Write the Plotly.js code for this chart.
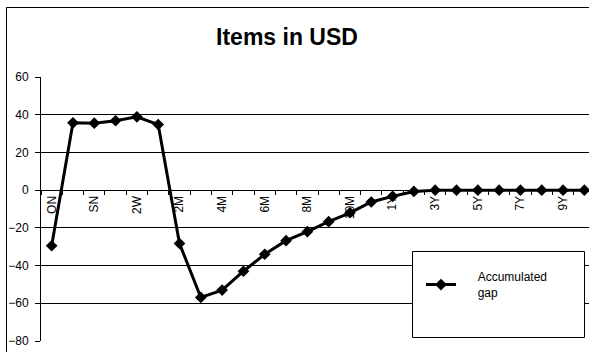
<!DOCTYPE html>
<html>
<head>
<meta charset="utf-8">
<script src="https://cdn.plot.ly/plotly-3.0.1.min.js"></script>
<style>
  html, body { margin: 0; padding: 0; background: #fff; overflow: hidden; }
  #chart { width: 610px; height: 370px; }
</style>
</head>
<body>
<div id="chart"></div>
<script>
// Tenor buckets along the horizontal axis
const tenors = ['ON', 'TN', 'SN', '1W', '2W', '1M', '2M', '3M', '4M', '5M', '6M', '7M', '8M',
                '9M', '10M', '11M', '1Y', '2Y', '3Y', '4Y', '5Y', '6Y', '7Y', '8Y', '9Y', '10Y'];

// Accumulated gap per tenor bucket (USD)
const accumulatedGap = [-29.5, 35.7, 35.5, 36.8, 38.9, 34.8, -28.3, -56.9, -53, -43, -34, -26.8,
                        -22, -16.7, -12, -6.3, -3.3, -0.7, 0, 0, 0, 0, 0, 0, 0, 0];

// Only every second bucket carries a visible label
const tenorLabels = ['ON', '', 'SN', '', '2W', '', '2M', '', '4M', '', '6M', '', '8M',
                     '', '10M', '', '1Y', '', '3Y', '', '5Y', '', '7Y', '', '9Y', ''];

// Legend entry, one line per row
const seriesNameLines = ['Accumulated', 'gap'];

const W = 610, H = 370;
const plotLeft = 41, plotRight = 595, plotTop = 77, plotBottom = 341;
const pw = plotRight - plotLeft, ph = plotBottom - plotTop;
const px = v => (v - plotLeft) / pw;      // pixel -> paper x
const py = v => (plotBottom - v) / ph;    // pixel -> paper y

const font = 'Liberation Sans, Arial, sans-serif';

// indent legend text away from the line sample
const indent = '&nbsp;'.repeat(5);

const trace = {
  type: 'scatter',
  mode: 'lines+markers',
  x: tenors,
  y: accumulatedGap,
  name: seriesNameLines.map(s => indent + s).join('<br>'),
  line: { color: '#000', width: 3 },
  marker: { symbol: 'diamond', size: 9, color: '#000' },
  cliponaxis: false
};

const layout = {
  width: W,
  height: H,
  margin: { l: plotLeft, r: W - plotRight, t: plotTop, b: H - plotBottom, pad: 0 },
  paper_bgcolor: '#fff',
  plot_bgcolor: '#fff',
  font: { family: font, size: 12, color: '#000' },
  title: {
    text: 'Items in USD',
    font: { family: font, size: 23, color: '#000', weight: 'bold' },
    xref: 'container', x: 287 / W, xanchor: 'center',
    yref: 'container', y: 1 - 37 / H, yanchor: 'middle'
  },
  showlegend: true,
  legend: {
    x: px(421), xanchor: 'left',
    y: py(285), yanchor: 'middle',
    bgcolor: 'rgba(0,0,0,0)',
    borderwidth: 0,
    itemwidth: 30,
    font: { family: font, size: 12, color: '#000' }
  },
  xaxis: {
    type: 'category',
    categoryorder: 'array',
    categoryarray: tenors,
    range: [-0.5, tenors.length - 0.5],
    tickvals: tenors,
    ticktext: tenorLabels,
    tickson: 'boundaries',
    ticks: 'outside',
    ticklen: 4,
    tickcolor: '#000',
    tickangle: -90,
    tickfont: { family: font, size: 12, color: '#000' },
    showline: true,
    linecolor: '#000',
    linewidth: 1,
    showgrid: false,
    zeroline: false,
    anchor: 'free',
    position: 80 / 140,
    layer: 'below traces',
    fixedrange: true
  },
  yaxis: {
    range: [-80, 60],
    tick0: 0,
    dtick: 20,
    ticks: 'outside',
    ticklen: 5,
    tickcolor: '#000',
    ticklabelstandoff: 4,
    tickfont: { family: font, size: 12, color: '#000' },
    showline: true,
    linecolor: '#000',
    linewidth: 1,
    showgrid: true,
    gridcolor: '#000',
    gridwidth: 1,
    zeroline: false,
    fixedrange: true
  },
  shapes: [
    // chart area frame
    {
      type: 'rect', xref: 'paper', yref: 'paper', layer: 'above',
      x0: px(6.5), x1: px(W + 10), y0: py(H + 10), y1: py(7.5),
      line: { color: '#000', width: 1 }, fillcolor: 'rgba(0,0,0,0)'
    },
    // legend frame
    {
      type: 'rect', xref: 'paper', yref: 'paper', layer: 'above',
      x0: px(412.5), x1: px(584.5), y0: py(337.5), y1: py(251.5),
      line: { color: '#000', width: 1 }, fillcolor: '#fff'
    }
  ]
};

Plotly.newPlot('chart', [trace], layout, { displayModeBar: false, staticPlot: true });
</script>
</body>
</html>
